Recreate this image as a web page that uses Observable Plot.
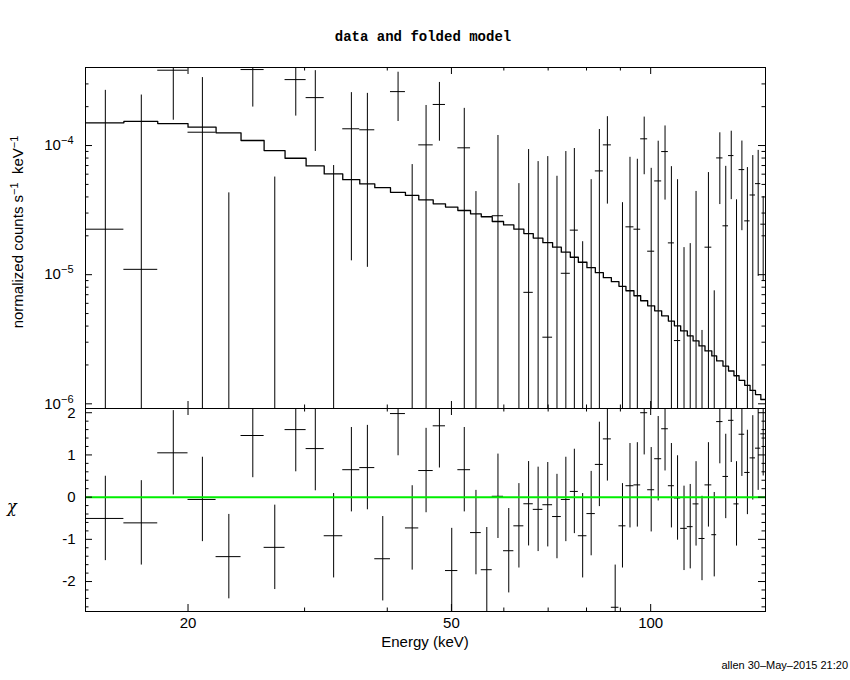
<!DOCTYPE html>
<html><head><meta charset="utf-8">
<script src="https://cdn.jsdelivr.net/npm/d3@7"></script>
<script src="https://cdn.jsdelivr.net/npm/@observablehq/plot@0.6"></script>
<style>
body{margin:0;background:#fff;}
#c{position:relative;width:850px;height:680px;background:#fff;overflow:hidden;font-family:"Liberation Sans",Arial,sans-serif;color:#000;}
.abs{position:absolute;white-space:nowrap;color:#000;}
.abs sup{font-size:11px;vertical-align:5px;line-height:0;}
.pl{position:absolute;left:0;}
</style></head><body>
<div id="c"></div>
<script>
// Energy bin edges (keV)
const edges = [14.0, 16.0, 18.0, 20.0, 22.05, 24.05, 26.06, 28.03, 30.16, 32.12, 34.26, 36.35, 38.30, 40.45, 42.61, 44.63, 46.93, 48.98, 51.13, 53.44, 55.47, 57.63, 59.94, 62.13, 64.33, 66.47, 68.73, 71.09, 73.28, 75.61, 77.75, 80.11, 82.49, 84.82, 87.22, 89.55, 91.76, 94.35, 96.58, 98.96, 101.4, 103.9, 106.35, 108.6, 111.0, 113.6, 115.9, 118.3, 120.8, 123.7, 125.8, 128.6, 131.1, 133.6, 136.0, 138.7, 141.3, 144.0, 146.7, 149.1];
// normalized counts s^-1 keV^-1
const rate = [2.25e-5, 1.10e-5, 3.83e-4, 1.268e-4, -1.6e-4, 3.875e-4, -1.26e-4, 3.24e-4, 2.35e-4, -4.3e-5,
  1.348e-4, 1.324e-4, -1.21e-4, 2.615e-4, -4.03e-5, 1.012e-4, 2.08e-4, -1.41e-4, 9.6e-5, -4.5e-5,
  -1.27e-4, 2.86e-5, -9.25e-5, -3.73e-5, 7.3e-6, -3.6e-6, 3.28e-6, -1.9e-5, 1.025e-5, 2.213e-5,
  -4.6e-5, -1.62e-5, 6.36e-5, 1.012e-4, -1.61e-4, -2.01e-5, 2.347e-5, 2.25e-5, 1.127e-4, 1.52e-5,
  5.32e-5, 8.98e-5, 1.763e-5, 3.09e-6, -3.2e-5, -2.94e-5, -4.7e-6, -4.13e-5, 1.633e-5, -3.94e-5,
  8.02e-5, 2.39e-5, 8.36e-5, -5.3e-6, 6.51e-5, 2.61e-5, 4.14e-5, 5.07e-5, 2.46e-5];
const rateErr = [2.45e-4, 2.35e-4, 2.26e-4, 2.09e-4, 2.03e-4, 1.89e-4, 1.83e-4, 1.55e-4, 1.45e-4, 1.13e-4,
  1.22e-4, 1.21e-4, 1.15e-4, 1.08e-4, 1.115e-4, 1.03e-4, 1.0e-4, 1.0e-4, 9.8e-5, 8.9e-5,
  9.0e-5, 9.1e-5, 9.2e-5, 8.8e-5, 8.58e-5, 7.87e-5, 7.88e-5, 7.68e-5, 7.96e-5, 7.27e-5,
  6.4e-5, 7.06e-5, 6.95e-5, 6.6e-5, 6.5e-5, 5.62e-5, 5.76e-5, 5.58e-5, 5.33e-5, 5.14e-5,
  5.48e-5, 5.2e-5, 5.1e-5, 5.13e-5, 4.82e-5, 4.68e-5, 4.88e-5, 4.5e-5, 4.54e-5, 4.69e-5,
  4.53e-5, 4.51e-5, 4.55e-5, 4.33e-5, 4.32e-5, 4.14e-5, 4.22e-5, 4.1e-5, 1.57e-5];
// folded model
const model = [1.50e-4, 1.536e-4, 1.48e-4, 1.387e-4, 1.255e-4, 1.094e-4, 9.14e-5, 7.97e-5, 6.95e-5, 6.03e-5,
  5.44e-5, 5.04e-5, 4.72e-5, 4.34e-5, 4.11e-5, 3.80e-5, 3.54e-5, 3.34e-5, 3.14e-5, 2.96e-5,
  2.81e-5, 2.58e-5, 2.43e-5, 2.25e-5, 2.08e-5, 1.92e-5, 1.77e-5, 1.633e-5, 1.493e-5, 1.365e-5,
  1.248e-5, 1.133e-5, 1.036e-5, 9.48e-6, 8.82e-6, 8.13e-6, 7.51e-6, 6.87e-6, 6.28e-6, 5.74e-6,
  5.25e-6, 4.80e-6, 4.37e-6, 4.02e-6, 3.67e-6, 3.36e-6, 3.07e-6, 2.81e-6, 2.57e-6, 2.35e-6,
  2.15e-6, 1.96e-6, 1.795e-6, 1.65e-6, 1.52e-6, 1.39e-6, 1.27e-6, 1.18e-6, 1.08e-6];
// residuals (chi)
const chi = [-0.505, -0.61, 1.05, -0.055, -1.41, 1.46, -1.19, 1.60, 1.15, -0.915,
  0.65, 0.70, -1.46, 1.98, -0.73, 0.63, 1.69, -1.74, 0.65, -0.84,
  -1.72, 0.02, -1.27, -0.68, -0.157, -0.29, -0.18, -0.46, -0.055, 0.135,
  -0.915, -0.39, 0.775, 1.38, -2.61, -0.68, 0.27, 0.29, 2.0, 0.175,
  0.91, 1.62, 0.27, -0.02, -0.74, -0.70, -0.16, -0.98, 0.29, -0.89,
  1.79, 0.49, 1.82, -0.16, 1.49, 0.585, 0.93, 1.16, 1.5];

const xTicksMajor = [20, 50, 100];
const xTicksMinor = [30, 40, 60, 70, 80, 90];
const yTopMajor = [1e-4, 1e-5, 1e-6];
const yTopMinor = [2e-6, 3e-6, 4e-6, 5e-6, 6e-6, 7e-6, 8e-6, 9e-6, 2e-5, 3e-5, 4e-5, 5e-5, 6e-5, 7e-5, 8e-5, 9e-5, 2e-4, 3e-4];
const yBotMajor = [-2, -1, 0, 1, 2];
const yBotMinor = [-2.6, -2.4, -2.2, -1.8, -1.6, -1.4, -1.2, -0.8, -0.6, -0.4, -0.2, 0.2, 0.4, 0.6, 0.8, 1.2, 1.4, 1.6, 1.8];

const bins = edges.slice(0, -1).map((lo, i) => ({
  lo, hi: edges[i + 1], mid: (lo + edges[i + 1]) / 2,
  r: rate[i], e: rateErr[i], m: model[i], c: chi[i]
}));
const modelPts = bins.flatMap(b => [{x: b.lo, y: b.m}, {x: b.hi, y: b.m}]);

const W = 850, ML = 85, MR = 85, FW = W - ML - MR;
const TOP_H = 410, TOP_MT = 67, TOP_MB = 2, FH_TOP = TOP_H - TOP_MT - TOP_MB;
const BOT_H = 280, BOT_MT = 8, BOT_MB = 69, FH_BOT = BOT_H - BOT_MT - BOT_MB;
const MAJ = 7, MIN = 3.5;
const font = {fontFamily: "'Liberation Sans', Arial, sans-serif", fontSize: "15px", color: "#000", background: "transparent", overflow: "visible"};

function xTicks(fh) {
  return [
    Plot.tickX(xTicksMajor, {x: d => d, insetTop: fh - MAJ, stroke: "#000"}),
    Plot.tickX(xTicksMajor, {x: d => d, insetBottom: fh - MAJ, stroke: "#000"}),
    Plot.tickX(xTicksMinor, {x: d => d, insetTop: fh - MIN, stroke: "#000"}),
    Plot.tickX(xTicksMinor, {x: d => d, insetBottom: fh - MIN, stroke: "#000"})
  ];
}
function yTicks(maj, min) {
  return [
    Plot.tickY(maj, {y: d => d, insetRight: FW - MAJ, stroke: "#000"}),
    Plot.tickY(maj, {y: d => d, insetLeft: FW - MAJ, stroke: "#000"}),
    Plot.tickY(min, {y: d => d, insetRight: FW - MIN, stroke: "#000"}),
    Plot.tickY(min, {y: d => d, insetLeft: FW - MIN, stroke: "#000"})
  ];
}

const topPlot = Plot.plot({
  width: W, height: TOP_H, marginTop: TOP_MT, marginBottom: TOP_MB, marginLeft: ML, marginRight: MR,
  style: font,
  x: {type: "log", domain: [14.0, 149.1], axis: null},
  y: {type: "log", domain: [9.2e-7, 4.02e-4], axis: null},
  marks: [
    Plot.ruleX(bins.filter(b => b.r + b.e > 0), {x: "mid", y1: b => Math.max(b.r - b.e, 1e-12), y2: b => b.r + b.e, stroke: "#000", strokeWidth: 1, clip: true}),
    Plot.ruleY(bins.filter(b => b.r > 0), {y: "r", x1: "lo", x2: "hi", stroke: "#000", strokeWidth: 1, clip: true}),
    Plot.line(modelPts, {x: "x", y: "y", stroke: "#000", strokeWidth: 1.3, clip: true}),
    Plot.frame({stroke: "#000", strokeWidth: 1}),
    ...xTicks(FH_TOP),
    ...yTicks(yTopMajor, yTopMinor),
    Plot.axisY(yTopMajor, {tickSize: 0, tickPadding: 12, tickFormat: d => String(Math.round(Math.log10(d))), label: null})
  ]
});

// render the power-of-ten labels as "10" with a raised exponent
topPlot.querySelectorAll('g[aria-label="y-axis tick label"] text').forEach(t => {
  const ex = t.textContent.replace("-", "\u2212");
  t.textContent = "";
  const ns = "http://www.w3.org/2000/svg";
  const base = document.createElementNS(ns, "tspan");
  base.textContent = "10";
  const sup = document.createElementNS(ns, "tspan");
  sup.textContent = ex;
  sup.setAttribute("dy", "-6");
  sup.setAttribute("font-size", "11px");
  t.appendChild(base);
  t.appendChild(sup);
});

const botPlot = Plot.plot({
  width: W, height: BOT_H, marginTop: BOT_MT, marginBottom: BOT_MB, marginLeft: ML, marginRight: MR,
  style: font,
  x: {type: "log", domain: [14.0, 149.1], axis: null},
  y: {domain: [-2.71, 2.10], axis: null},
  marks: [
    Plot.ruleX(bins, {x: "mid", y1: b => b.c - 1, y2: b => b.c + 1, stroke: "#000", clip: true}),
    Plot.ruleY(bins, {y: "c", x1: "lo", x2: "hi", stroke: "#000", clip: true}),
    Plot.ruleY([0], {stroke: "#00ee00", strokeWidth: 2}),
    Plot.frame({stroke: "#000", strokeWidth: 1}),
    ...xTicks(FH_BOT),
    ...yTicks(yBotMajor, yBotMinor),
    Plot.axisY(yBotMajor, {tickSize: 0, tickPadding: 10, tickFormat: d => String(d), label: null}),
    Plot.axisX(xTicksMajor, {tickSize: 0, tickPadding: 6, tickFormat: d => String(d), label: null})
  ]
});

const c = document.getElementById("c");
function place(el, top) {
  const d = document.createElement("div");
  d.className = "pl";
  d.style.top = top + "px";
  d.appendChild(el);
  c.appendChild(d);
}
place(botPlot, 400);
place(topPlot, 0);

function label(html, css) {
  const d = document.createElement("div");
  d.className = "abs";
  d.innerHTML = html;
  Object.assign(d.style, css);
  c.appendChild(d);
  return d;
}
label("data and folded model", {left: "0px", width: "846px", textAlign: "center", top: "30px", fontFamily: "'Liberation Mono', 'DejaVu Sans Mono', monospace", fontWeight: "bold", fontSize: "14px", lineHeight: "14px"});
label("Energy (keV)", {left: "0px", width: "850px", textAlign: "center", top: "634px", fontSize: "15px", lineHeight: "15px"});
label("normalized counts s<sup>\u22121</sup>&nbsp; keV<sup>\u22121</sup>", {left: "-132px", width: "300px", textAlign: "center", top: "224px", fontSize: "15px", lineHeight: "16px", transform: "rotate(-90deg)"});
label("\u03C7", {left: "7px", top: "499px", fontSize: "16px", lineHeight: "16px", fontFamily: "'DejaVu Serif', serif", fontStyle: "italic"});
label("allen 30\u2013May\u20132015 21:20", {right: "2px", top: "660px", fontSize: "11px", lineHeight: "11px"});
</script>
</body></html>
